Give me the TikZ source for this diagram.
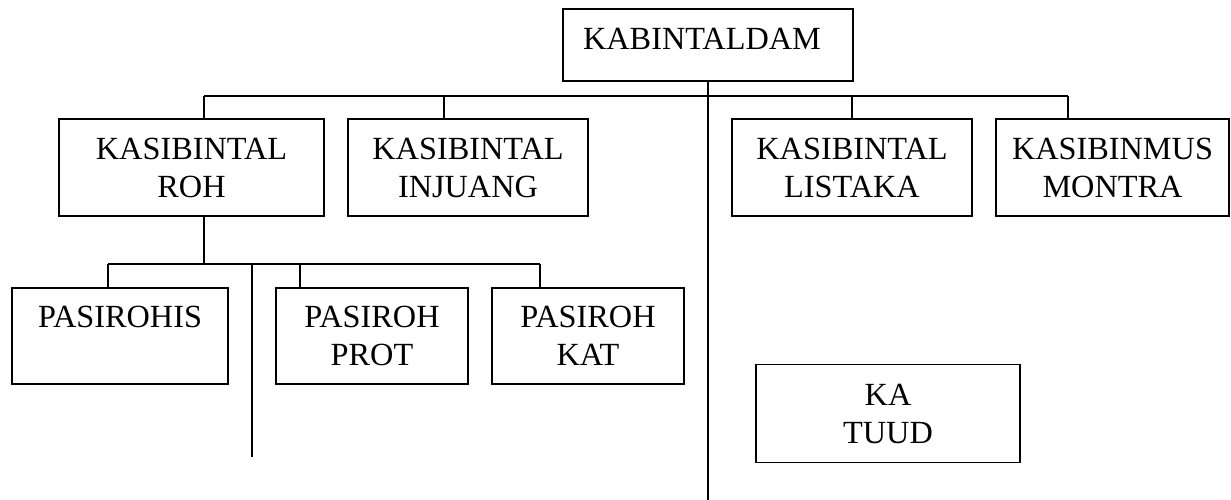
\documentclass[tikz,border=0pt]{standalone}
\usepackage{fontspec}
\setmainfont{Liberation Serif}
\begin{document}
\begin{tikzpicture}[x=1pt,y=-1pt,
  line width=1.9pt,
  box/.style={draw, rectangle, inner sep=0pt, align=center,
    font=\fontsize{32.3}{38}\selectfont},
  lbl/.style={inner sep=0pt, font=\fontsize{32.3}{38}\selectfont}]
\useasboundingbox (0,0) rectangle (1231,500);
% boxes
\node[box, minimum width=290pt, minimum height=72pt] (kab) at (708,45) {};
\node[lbl, anchor=base] (kabt) at (702,50) {KABINTALDAM};
\node[box, minimum width=265pt, minimum height=97pt] (roh) at (191.5,167.5) {KASIBINTAL\\ROH};
\node[box, minimum width=240pt, minimum height=97pt] (inj) at (468,167.5) {KASIBINTAL\\INJUANG};
\node[box, minimum width=240pt, minimum height=97pt] (lis) at (852,167.5) {KASIBINTAL\\LISTAKA};
\node[box, minimum width=233pt, minimum height=97pt] (mon) at (1112.5,167.5) {KASIBINMUS\\MONTRA};
\node[box, minimum width=216pt, minimum height=96pt] (his) at (120,335.7) {PASIROHIS\\\mbox{}};
\node[box, minimum width=192pt, minimum height=96pt] (prot) at (372,335.7) {PASIROH\\PROT};
\node[box, minimum width=192pt, minimum height=96pt] (kat) at (588,335.7) {PASIROH\\KAT};
\node[box, minimum width=264pt, minimum height=98pt] (tuud) at (888,413.5) {KA\\TUUD};
% bus coordinates
\coordinate (b1L) at (204,96);
\coordinate (b1R) at (1068,96);
\coordinate (d1) at (444,96);
\coordinate (d2) at (852,96);
\coordinate (b2L) at (108,264);
\coordinate (b2R) at (540,264);
\coordinate (d3) at (300,264);
\coordinate (d4) at (252,264);
\coordinate (d4end) at (252,457);
\coordinate (mainend) at (708,500);
% connectors
\draw (kab.south) -- (kab.south |- mainend);
\draw (b1L) -- (b1R);
\draw (b1L) -- (b1L |- roh.north);
\draw (d1) -- (d1 |- inj.north);
\draw (d2) -- (d2 |- lis.north);
\draw (b1R) -- (b1R |- mon.north);
\draw (b1L |- roh.south) -- (b1L |- b2L);
\draw (b2L) -- (b2R);
\draw (b2L) -- (b2L |- his.north);
\draw (d3) -- (d3 |- prot.north);
\draw (b2R) -- (b2R |- kat.north);
\draw (d4) -- (d4end);
\end{tikzpicture}
\end{document}
